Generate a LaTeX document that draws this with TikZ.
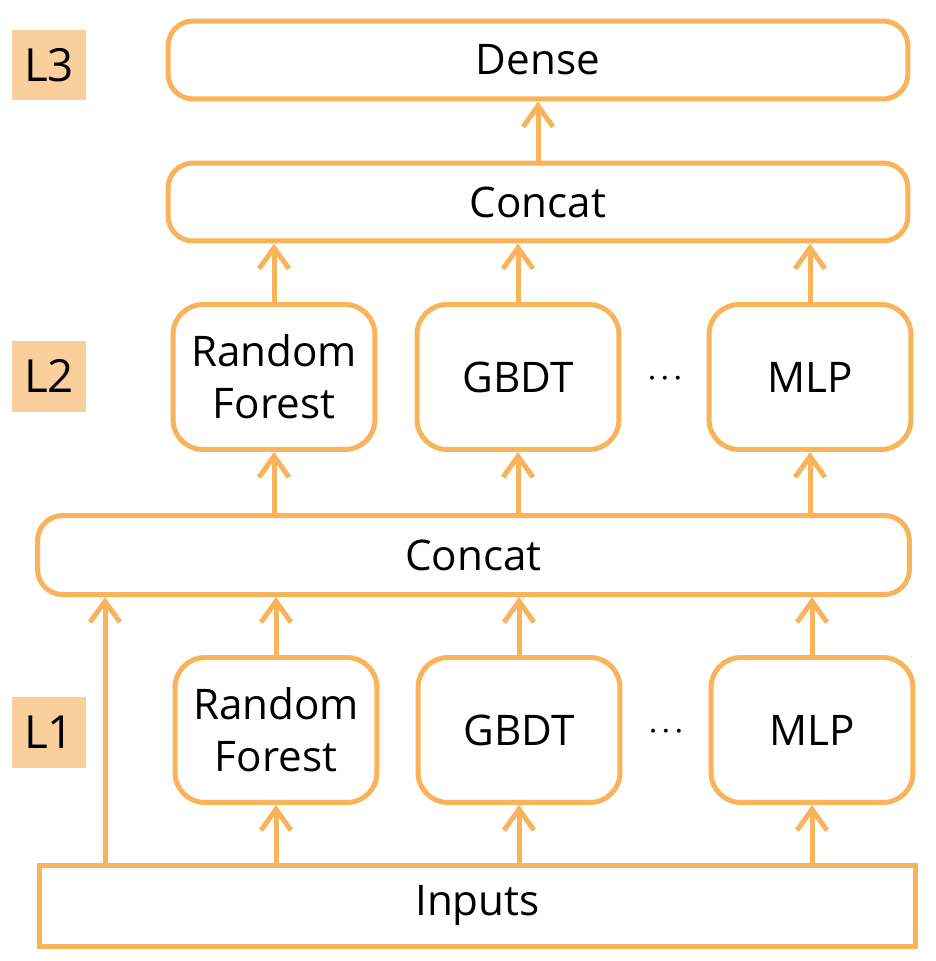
\documentclass[tikz,border=0pt]{standalone}
\usepackage{fontspec}
\setmainfont{Open Sans}
\usetikzlibrary{arrows.meta}
\definecolor{stackorange}{HTML}{F9B35A}
\definecolor{levelfill}{HTML}{F9CF9C}
\newcommand{\pxu}{0.02cm}

\tikzset{
  model/.style={draw=stackorange, line width=0.1cm, rounded corners=0.6cm, align=center,
    inner sep=0, minimum width=4.04cm, minimum height=2.9cm, font=\fontsize{24}{29.5}\selectfont},
  wide/.style={model, rounded corners=0.5cm, minimum width=14.8cm, minimum height=1.56cm},
  level/.style={fill=levelfill, inner sep=0, minimum width=1.48cm, minimum height=1.42cm,
    font=\fontsize{26}{30}\selectfont},
  link/.style={draw=stackorange, line width=0.1cm, -{Straight Barb[length=0.42cm, width=0.6cm]}},
  gap/.style={inner sep=0, font=\fontsize{15}{17}\selectfont\boldmath},
}

\begin{document}
\begin{tikzpicture}[x=\pxu, y=-\pxu]
		\useasboundingbox (0,0) rectangle (936,961);
		%%%%% LEVELS %%%%%
		
		\node[level] (tag3) at (49,65) {L3};
		\node[level] (tag2) at (49,376) {L2};
		\node[level] (tag1) at (49,732) {L1};
		
		%%%%% L3 %%%%%
		
		\node[wide] (dense) at (538,60) {Dense};
		\node[wide] (cat2) at (538,202) {Concat};
		
		%%%%% L2 %%%%%
		
		\node[model] (rf2) at (274,377) {Random\\Forest};
		\node[model] (gbdt2) at (518,377) {GBDT};
		\node[gap] (gap2) at (665,379) {$\cdots$};
		\node[model] (mlp2) at (810,377) {MLP};
		
		\node[wide, minimum width=17.44cm, minimum height=1.58cm] (cat1) at (473.5,555) {Concat};
		
		%%%%% L1 %%%%%
		
		\node[model] (rf1) at (276,730) {Random\\Forest};
		\node[model] (gbdt1) at (519,730) {GBDT};
		\node[gap] (gap1) at (666,731) {$\cdots$};
		\node[model] (mlp1) at (812,730) {MLP};
		
		\node[model, rounded corners=0, minimum width=17.52cm, minimum height=1.62cm] (inputs) at (477.5,906) {Inputs};
		\coordinate (skip) at (105,906);
		
		%%%%% ARROWS %%%%%
		
		\draw[link] (cat2.north) -- (dense.south);
		\foreach \m in {rf2,gbdt2,mlp2} {
			\draw[link] (\m.north) -- (\m.north |- cat2.south);
			\draw[link] (\m.south |- cat1.north) -- (\m.south);
		}
		\foreach \m in {rf1,gbdt1,mlp1} {
			\draw[link] (\m.north) -- (\m.north |- cat1.south);
			\draw[link] (\m.south |- inputs.north) -- (\m.south);
		}
		\draw[link] (skip |- inputs.north) -- (skip |- cat1.south);
		
		%%%%% END %%%%%
	\end{tikzpicture}
\end{document}
